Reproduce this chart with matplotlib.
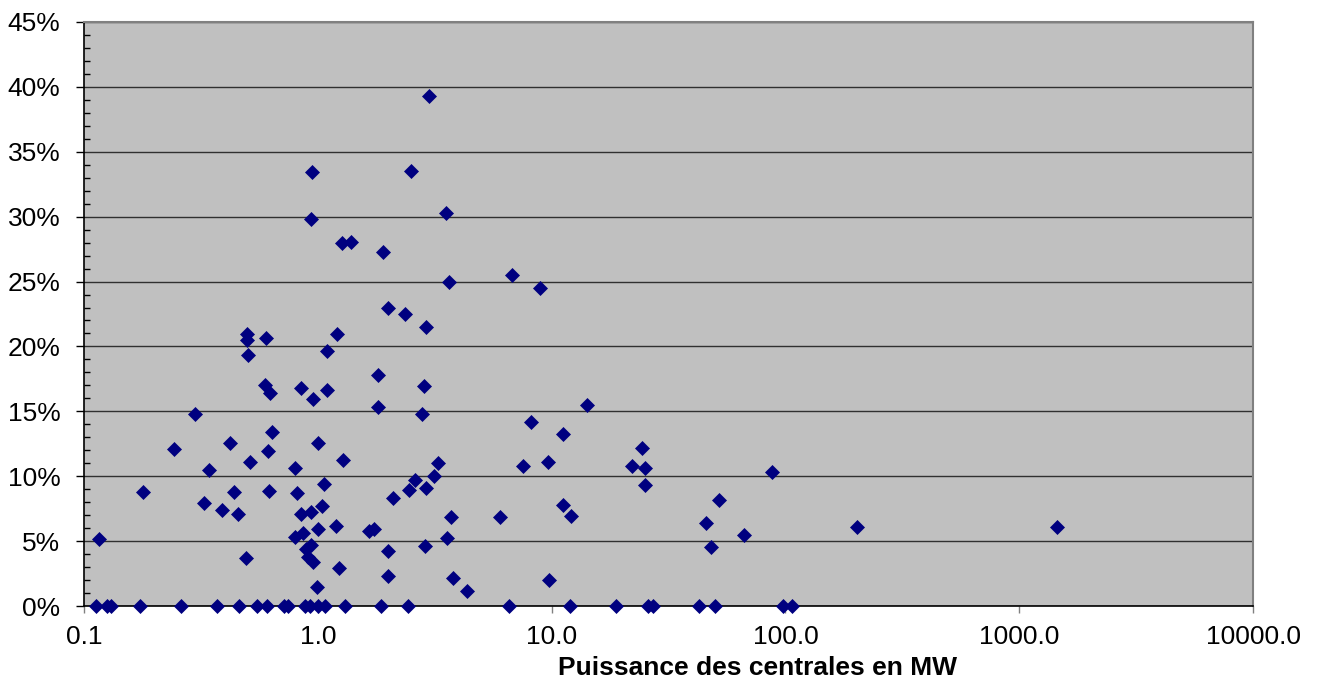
import numpy as np
import matplotlib
matplotlib.use("Agg")
import matplotlib.pyplot as plt
from matplotlib.ticker import FixedLocator, MultipleLocator, FuncFormatter, NullLocator

plt.rcParams['font.family'] = ['Liberation Sans', 'DejaVu Sans']

# puissance (MW) des centrales avec un taux de 0 %
power_zero = [0.113, 0.125, 0.131, 0.173, 0.261, 0.369, 0.461, 0.551, 0.608,
              0.717, 0.748, 0.881, 0.926, 1.005, 1.073, 1.312, 1.865, 2.427,
              6.6, 11.93, 18.8, 25.95, 27.25, 42.85, 50.2, 97.4, 107.0]
share_zero = [0.0] * len(power_zero)

# autres centrales : puissance (MW) et taux (%)
power_mw = [0.116, 0.179, 0.243, 0.299, 0.326, 0.341, 0.390, 0.420, 0.439, 0.456,
            0.493, 0.499, 0.499, 0.501, 0.511, 0.600, 0.596, 0.624, 0.610, 0.620,
            0.636, 0.801, 0.817, 0.850, 0.845, 0.796, 0.862, 0.935, 0.957, 0.998,
            0.998, 0.890, 0.935, 0.911, 0.957, 0.989, 1.039, 1.066, 1.091, 1.091,
            2.995, 2.507, 3.54, 1.270, 1.383, 1.907, 3.646, 6.76, 8.94, 2.004,
            2.355, 2.907, 1.205, 1.815, 2.859, 1.810, 2.803, 8.20, 11.17, 1.278,
            3.262, 7.54, 9.61, 2.608, 3.145, 2.451, 2.907, 2.106, 1.197, 1.657,
            1.740, 3.709, 6.02, 11.17, 12.09, 2.004, 2.878, 3.587, 1.229, 2.004,
            3.805, 4.367, 9.70, 14.23, 24.24, 22.05, 25.21, 88.0, 25.07, 51.9,
            45.93, 66.6, 47.96, 202.0, 1451.0, 0.942, 0.932]
share_pct = [5.14, 8.76, 12.08, 14.77, 7.97, 10.48, 7.4, 12.59, 8.76, 7.07,
             3.7, 20.99, 20.5, 19.37, 11.1, 20.68, 17.0, 16.39, 11.97, 8.86,
             13.41, 10.66, 8.74, 16.78, 7.07, 5.34, 5.6, 7.27, 15.98, 12.56,
             5.94, 4.4, 4.7, 3.8, 3.42, 1.49, 7.73, 9.38, 19.68, 16.65,
             39.3, 33.5, 30.3, 27.96, 28.04, 27.3, 24.95, 25.5, 24.5, 22.95,
             22.5, 21.5, 20.95, 17.8, 16.96, 15.3, 14.76, 14.16, 13.28, 11.27,
             11.05, 10.8, 11.13, 9.68, 10.03, 8.93, 9.13, 8.3, 6.18, 5.77,
             5.96, 6.82, 6.87, 7.8, 6.93, 4.26, 4.62, 5.22, 2.94, 2.34,
             2.14, 1.18, 2.0, 15.5, 12.15, 10.77, 10.6, 10.3, 9.35, 8.15,
             6.37, 5.47, 4.57, 6.12, 6.09, 33.46, 29.8]

x_ticks = [0.1, 1.0, 10.0, 100.0, 1000.0, 10000.0]
y_ticks = [0, 5, 10, 15, 20, 25, 30, 35, 40, 45]
xlabel = "Puissance des centrales en MW"

W, H = 1317, 679
fig = plt.figure(figsize=(W / 100, H / 100), dpi=100)
ax = fig.add_axes([84 / W, (H - 606) / H, (1253 - 84) / W, (606 - 22) / H])
ax.set_facecolor('#C0C0C0')

x_all = power_zero + power_mw
y_all = share_zero + share_pct
ax.plot(x_all, y_all, linestyle='none', marker='D', markersize=7.4,
        markerfacecolor='#000080', markeredgecolor='#000080', markeredgewidth=0.5,
        clip_on=False, zorder=5)

ax.set_xscale('log')
ax.set_xlim(0.1, 10000)
ax.set_ylim(0, 45)
ax.xaxis.set_major_locator(FixedLocator(x_ticks))
ax.xaxis.set_minor_locator(NullLocator())
ax.xaxis.set_major_formatter(FuncFormatter(lambda v, p: f"{v:.1f}"))
ax.yaxis.set_major_locator(FixedLocator(y_ticks))
ax.yaxis.set_minor_locator(MultipleLocator(1))
ax.yaxis.set_major_formatter(FuncFormatter(lambda v, p: f"{v:.0f}%"))

ax.grid(axis='y', which='major', color='#303030', linewidth=1.0)
ax.set_axisbelow(True)

ax.tick_params(axis='x', which='major', direction='out', length=5, width=1,
               color='#808080', labelsize=19, pad=9)
ax.tick_params(axis='y', which='major', direction='out', length=6, width=1,
               color='black', labelsize=19, pad=11)
ax.tick_params(axis='y', which='minor', direction='in', length=4.5, width=1,
               color='black')

for side in ('left', 'bottom'):
    ax.spines[side].set_color('black')
    ax.spines[side].set_linewidth(1.2)
for side in ('top', 'right'):
    ax.spines[side].set_color('#808080')
    ax.spines[side].set_linewidth(1.5)

ax.set_xlabel(xlabel, fontsize=19, fontweight='bold')
ax.xaxis.set_label_coords((757 - 84) / (1253 - 84), -(668 - 606) / (606 - 22))
ax.xaxis.label.set_verticalalignment('center')

fig.savefig("out.png", dpi=100, facecolor='white')
